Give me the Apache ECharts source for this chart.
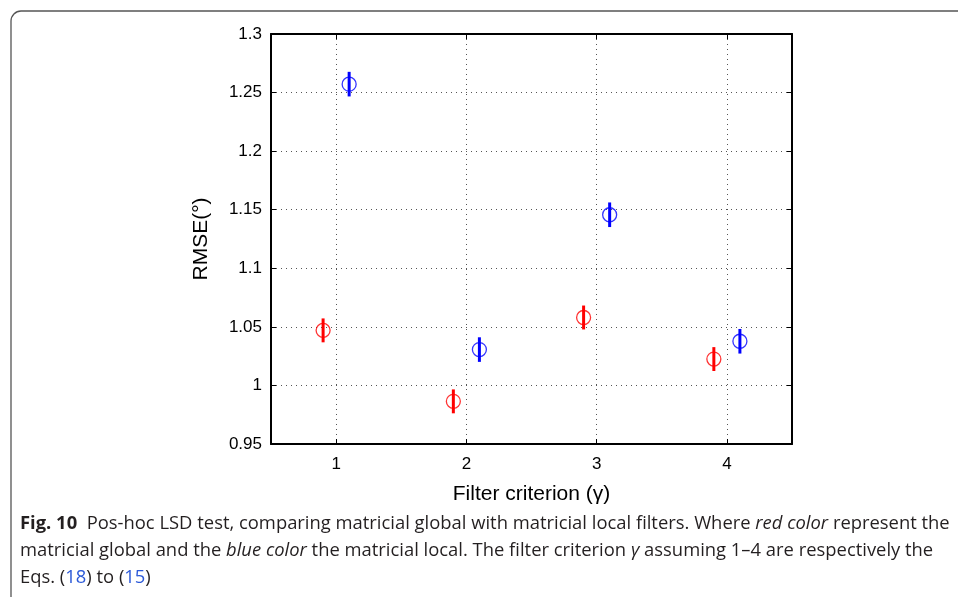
<!DOCTYPE html>
<html>
<head>
<meta charset="utf-8">
<script src="https://cdn.jsdelivr.net/npm/echarts@6/dist/echarts.min.js"></script>
<style>html,body{margin:0;padding:0;background:#fff;}#c{width:958px;height:597px;}</style>
</head>
<body>
<div id="c"></div>
<script>
const categories = ['1', '2', '3', '4'];
const criterion = [1, 2, 3, 4];
const redValues = [1.047, 0.9864, 1.058, 1.0225];
const blueValues = [1.2572, 1.0306, 1.1457, 1.0377];
const redErr = [0.0102, 0.0102, 0.0102, 0.0102];
const blueErr = [0.0105, 0.0105, 0.0105, 0.0105];
const xOffset = 0.1;

const redPts = criterion.map((c, i) => [c - xOffset, redValues[i], redErr[i]]);
const bluePts = criterion.map((c, i) => [c + xOffset, blueValues[i], blueErr[i]]);

function errRender(color) {
  return function (params, api) {
    const x = api.value(0), y = api.value(1), e = api.value(2);
    const p1 = api.coord([x, y - e]);
    const p2 = api.coord([x, y + e]);
    return {
      type: 'line',
      shape: { x1: p1[0], y1: p1[1], x2: p2[0], y2: p2[1] },
      style: { stroke: color, lineWidth: 3 }
    };
  };
}

const chart = echarts.init(document.getElementById('c'), null, { renderer: 'canvas' });
const labelFont = { fontFamily: 'Liberation Sans', fontSize: 17, color: '#000' };
const gridDots = { show: true, lineStyle: { type: [1, 4], color: '#555', width: 1 } };
const capFont = 'Open Sans';
const capSize = 18.4;
const capColor = '#231f20';

chart.setOption({
  animation: false,
  backgroundColor: '#fff',
  grid: { left: 271, top: 34, right: 166, bottom: 153, containLabel: false },
  xAxis: [
    {
      type: 'category', data: categories, position: 'bottom', boundaryGap: true,
      axisLine: { show: true, lineStyle: { color: '#000', width: 2 } },
      axisTick: { show: true, inside: true, alignWithLabel: true, length: 5, lineStyle: { color: '#000', width: 1 } },
      axisLabel: Object.assign({ margin: 12 }, labelFont),
      splitLine: Object.assign({ alignWithLabel: true }, gridDots),
      name: 'Filter criterion (\u03b3)', nameLocation: 'middle', nameGap: 40,
      nameTextStyle: { fontFamily: 'Liberation Sans', fontSize: 21, color: '#000', verticalAlign: 'top' }
    },
    {
      type: 'category', data: categories, position: 'top', boundaryGap: true,
      axisLine: { show: true, lineStyle: { color: '#000', width: 2 } },
      axisTick: { show: true, inside: true, alignWithLabel: true, length: 5, lineStyle: { color: '#000', width: 1 } },
      axisLabel: { show: false }, splitLine: { show: false }
    },
    {
      type: 'value', min: 0.5, max: 4.5, show: false,
      splitLine: { show: false }
    }
  ],
  yAxis: [
    {
      type: 'value', min: 0.95, max: 1.3, interval: 0.05, position: 'left',
      axisLine: { show: true, lineStyle: { color: '#000', width: 2 } },
      axisTick: { show: true, inside: true, length: 5, lineStyle: { color: '#000', width: 1 } },
      axisLabel: Object.assign({ margin: 9, formatter: v => String(+v.toFixed(2)) }, labelFont),
      splitLine: gridDots,
      name: 'RMSE(\u00b0)', nameLocation: 'middle', nameGap: 59, nameRotate: 90,
      nameTextStyle: { fontFamily: 'Liberation Sans', fontSize: 21, color: '#000' }
    },
    {
      type: 'value', min: 0.95, max: 1.3, interval: 0.05, position: 'right',
      axisLine: { show: true, lineStyle: { color: '#000', width: 2 } },
      axisTick: { show: true, inside: true, length: 5, lineStyle: { color: '#000', width: 1 } },
      axisLabel: { show: false }, splitLine: { show: false }
    }
  ],
  series: [
    { type: 'scatter', xAxisIndex: 2, yAxisIndex: 0, data: redPts, symbol: 'circle', symbolSize: 14,
      itemStyle: { color: 'rgba(0,0,0,0)', borderColor: '#ff0000', borderWidth: 1.3 }, z: 3 },
    { type: 'scatter', xAxisIndex: 2, yAxisIndex: 0, data: bluePts, symbol: 'circle', symbolSize: 14,
      itemStyle: { color: 'rgba(0,0,0,0)', borderColor: '#0000ff', borderWidth: 1.3 }, z: 3 },
    { type: 'custom', xAxisIndex: 2, yAxisIndex: 0, data: redPts, renderItem: errRender('#ff0000'), z: 4 },
    { type: 'custom', xAxisIndex: 2, yAxisIndex: 0, data: bluePts, renderItem: errRender('#0000ff'), z: 4 }
  ],
  graphic: [
    { type: 'rect', shape: { x: 11, y: 11, width: 1000, height: 700, r: 10 },
      style: { fill: 'none', stroke: '#555', lineWidth: 1.3 }, silent: true },
    { type: 'text', x: 20, y: 524, style: {
      text: '{b|Fig. 10}  Pos-hoc LSD test, comparing matricial global with matricial local filters. Where {i|red color} represent the',
      font: capSize + 'px ' + capFont, fill: capColor, verticalAlign: 'middle',
      rich: { b: { fontWeight: 'bold', fontFamily: capFont, fontSize: capSize, fill: capColor },
              i: { fontStyle: 'italic', fontFamily: capFont, fontSize: capSize, fill: capColor } } } },
    { type: 'text', x: 20, y: 551, style: {
      text: 'matricial global and the {i|blue color} the matricial local. The filter criterion {i|\u03b3} assuming 1\u20134 are respectively the',
      font: capSize + 'px ' + capFont, fill: capColor, verticalAlign: 'middle',
      rich: { i: { fontStyle: 'italic', fontFamily: capFont, fontSize: capSize, fill: capColor } } } },
    { type: 'text', x: 20, y: 578, style: {
      text: 'Eqs. ({l|18}) to ({l|15})',
      font: capSize + 'px ' + capFont, fill: capColor, verticalAlign: 'middle',
      rich: { l: { fontFamily: capFont, fontSize: capSize, fill: '#2b59d8' } } } }
  ]
});
</script>
</body>
</html>
